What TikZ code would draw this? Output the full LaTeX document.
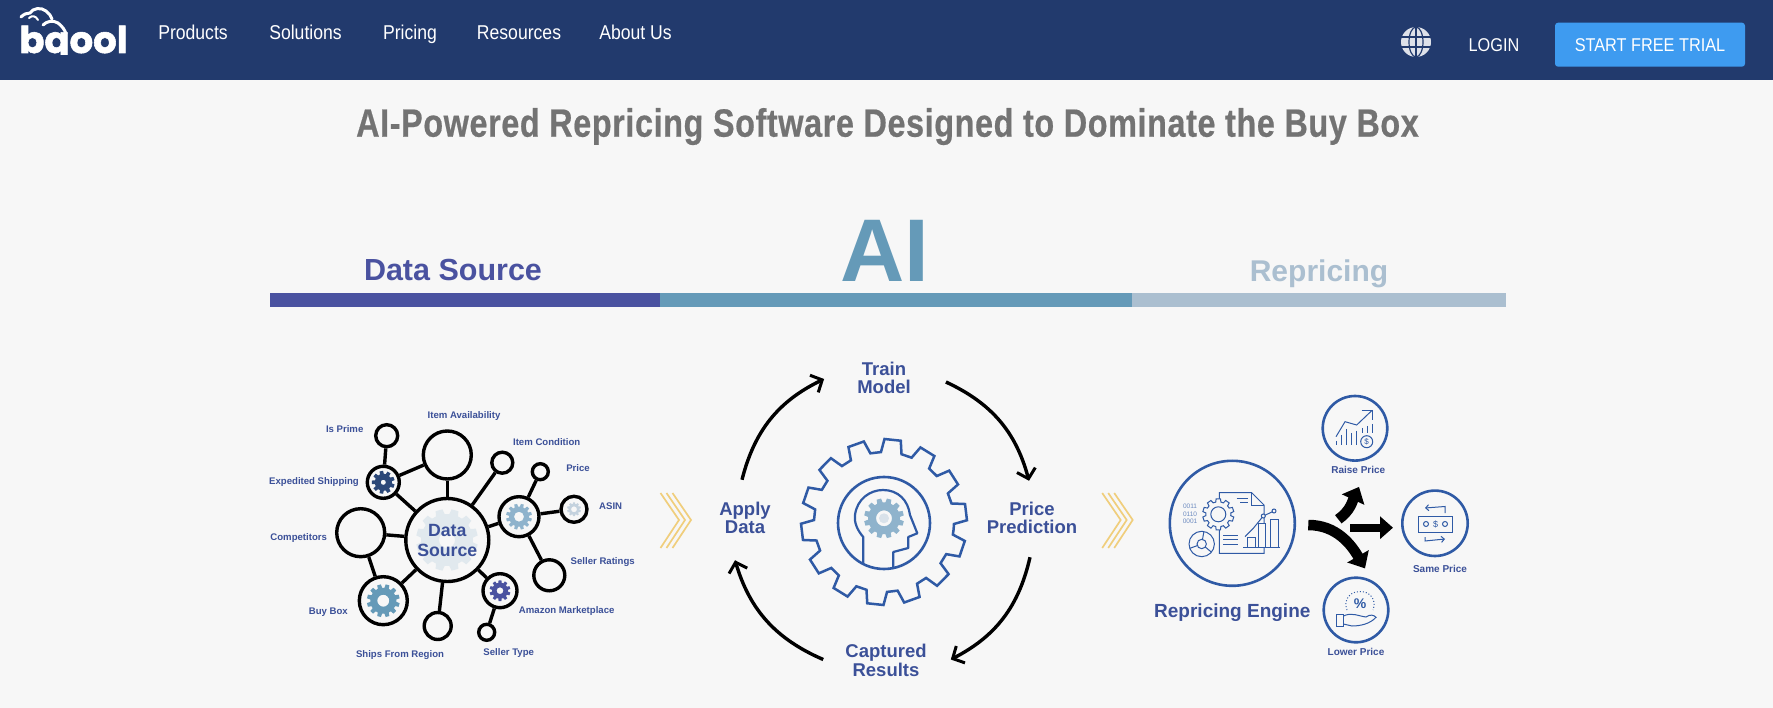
\documentclass[tikz,border=0pt]{standalone}
\usepackage{fontspec}
\usepackage{xcolor}
\usetikzlibrary{arrows.meta,calc}
\setmainfont{Liberation Sans}
\newfontfamily\navfont[FakeStretch=0.88]{Liberation Sans}
\newfontfamily\titlefont[FakeStretch=0.82,LetterSpace=1.5,BoldFeatures={FakeBold=0.5}]{Liberation Sans}
\newfontfamily\logofont[BoldFeatures={FakeBold=1.5}]{Poppins}
\definecolor{pageback}{HTML}{F7F7F7}
\definecolor{navblue}{HTML}{223A6D}
\definecolor{trialblue}{HTML}{3E9BF0}
\definecolor{inkblue}{HTML}{3B5098}
\definecolor{ringblue}{HTML}{2F5AA5}
\definecolor{dataviolet}{HTML}{4A52A0}
\definecolor{aiteal}{HTML}{659AB8}
\definecolor{repgrey}{HTML}{ABBFD0}
\definecolor{softgear}{HTML}{8FB3CC}
\definecolor{chevgold}{HTML}{F0CE7C}
\newcommand{\fs}[1]{\fontsize{#1}{#1}\selectfont}
% gear outline: centre, outer radius, inner radius, teeth, rotation
\newcommand{\geartrack}[5]{($(#1)+(#5:#3)$)
  \foreach \tooth in {1,...,#4} {
    -- ($(#1)+({#5+(\tooth-0.83)*360/#4}:#3)$)
    -- ($(#1)+({#5+(\tooth-0.72)*360/#4}:#2)$)
    -- ($(#1)+({#5+(\tooth-0.28)*360/#4}:#2)$)
    -- ($(#1)+({#5+(\tooth-0.17)*360/#4}:#3)$)
  } -- cycle}

\begin{document}
\begin{tikzpicture}[
      x=1pt, y=-1pt,
      navtext/.style={text=white, inner sep=0pt, anchor=base, font=\navfont\fs{20}},
      bandlabel/.style={inner sep=0pt, anchor=base, font=\bfseries},
      blob/.style={draw=black, circle, line width=3.4pt, inner sep=0pt},
      link/.style={draw=black, line width=3.4pt},
      srclabel/.style={text=inkblue, inner sep=0pt, text height=7pt, text depth=2pt, font=\bfseries\fs{9.6}},
      steplabel/.style={text=inkblue, inner sep=0pt, align=center, font=\bfseries\fs{18.5}},
      pricelabel/.style={text=inkblue, inner sep=0pt, font=\bfseries\fs{10}},
      cyclearr/.style={line width=3.4pt, -{Straight Barb[length=9pt,width=19pt,line width=3pt]}},
      chev/.style={draw=chevgold, line width=1.7pt},
      ring/.style={draw=ringblue, circle, line width=2.6pt, inner sep=0pt},
      icon/.style={draw=ringblue, line width=1pt},
      forkarr/.style={line width=10.5pt, -{Triangle[length=14pt,width=24pt]}},
      logoline/.style={draw=white, line width=3pt, line cap=round}
  ]
    \useasboundingbox (0,0) rectangle (1773,708);
    \fill[pageback] (0,0) rectangle (1773,708);

    % top bar
    \fill[navblue] (0,0) rectangle (1773,80);
    \begin{scope}
      \clip (0,0) rectangle (140,55);
      \node[text=white, inner sep=0pt, anchor=base, font=\logofont\bfseries\fs{37}] (logoWord) at (73.5,53) {bqool};
    \end{scope}
    \draw[logoline] (21,17) .. controls (24,14) and (27,13) .. (30,13) .. controls (33,8) and (41,7) .. (46,11) .. controls (49,13) and (51,16) .. (52,19);
    \draw[logoline] (43,25) .. controls (47,21) and (53,20) .. (58,23) .. controls (62,26) and (65,30) .. (66,34);
    \draw[white, line width=2pt, line cap=round] (29,18) .. controls (32,15) and (36,16) .. (38,20);
    \node[navtext] (navProducts) at (193,40) {Products};
    \node[navtext] (navSolutions) at (305.5,40) {Solutions};
    \node[navtext] (navPricing) at (410,40) {Pricing};
    \node[navtext] (navResources) at (519,40) {Resources};
    \node[navtext] (navAbout) at (635.5,40) {About Us};
    \fill[white!85!navblue] (1416,42) circle (15);
    \draw[navblue, line width=1.2pt] (1416,27) -- (1416,57) (1401,37) -- (1431,37) (1401,47) -- (1431,47);
    \draw[navblue, line width=1.2pt] (1416,42) ellipse (7 and 15);
    \node[navtext, font=\navfont\fs{18.5}] (navLogin) at (1494,52) {LOGIN};
    \node[fill=trialblue, rounded corners=3pt, minimum width=190pt, minimum height=44pt, inner sep=0pt, text=white, font=\navfont\fs{18.5}] (navTrial) at (1650,44.7) {START FREE TRIAL};

    % heading
    \node[text=black!55, inner sep=0pt, anchor=base, font=\titlefont\bfseries\fs{39.5}] (mainTitle) at (887.5,136.7) {AI-Powered Repricing Software Designed to Dominate the Buy Box};

    % band
    \fill[dataviolet] (270,293) rectangle (659.5,307);
    \fill[aiteal] (659.5,293) rectangle (1132,307);
    \fill[repgrey] (1132,293) rectangle (1506,307);
    \node[bandlabel, text=dataviolet, font=\bfseries\fs{30.5}] (bandData) at (453,281) {Data Source};
    \node[bandlabel, text=aiteal, font=\bfseries\fs{89}] (bandAI) at (885,282) {AI};
    \node[bandlabel, text=repgrey, font=\bfseries\fs{30}] (bandRep) at (1319,282) {Repricing};

    % data source gears
    \fill[aiteal!15!pageback, even odd rule] \geartrack{447,540}{31}{26}{12}{0} (447,540) circle (8);
    \fill[navblue!85!aiteal, even odd rule] \geartrack{383.3,482.3}{11.5}{8.5}{9}{0} (383.3,482.3) circle (2.6);
    \fill[softgear, even odd rule] \geartrack{519,516.7}{13}{10}{12}{0} (519,516.7) circle (5);
    \fill[repgrey!70!white, even odd rule] \geartrack{574,509.3}{7}{5.5}{10}{0} (574,509.3) circle (3);
    \fill[dataviolet, even odd rule] \geartrack{500,590.7}{10.5}{8}{10}{0} (500,590.7) circle (3.4);
    \fill[aiteal, even odd rule] \geartrack{383.3,600.7}{16.5}{13}{12}{0} (383.3,600.7) circle (6);

    % data source nodes
    \node[blob, minimum size=83pt, text=inkblue, align=center, font=\bfseries\fontsize{17.7}{20}\selectfont] (hubData) at (447.3,540) {Data\\Source};
    \node[blob, minimum size=22pt] (isPrime) at (386.7,435.7) {};
    \node[blob, minimum size=48pt] (itemAvail) at (447.3,455) {};
    \node[blob, minimum size=21pt] (itemCond) at (502.3,462.7) {};
    \node[blob, minimum size=16pt] (priceDot) at (540.3,471.7) {};
    \node[blob, minimum size=40pt] (priceHub) at (519,516.7) {};
    \node[blob, minimum size=26pt] (asinDot) at (574,509.3) {};
    \node[blob, minimum size=31pt] (sellerRate) at (549.3,575.3) {};
    \node[blob, minimum size=34pt] (amazonHub) at (500,590.7) {};
    \node[blob, minimum size=16pt] (sellerType) at (486.7,632.3) {};
    \node[blob, minimum size=27pt] (shipsFrom) at (437.7,626) {};
    \node[blob, minimum size=48pt] (buyBox) at (383.3,600.7) {};
    \node[blob, minimum size=48pt] (competitors) at (360.7,532.7) {};
    \node[blob, minimum size=32pt] (expedited) at (383.3,482.3) {};
    \draw[link] (hubData) -- (expedited);
    \draw[link] (expedited) -- (isPrime);
    \draw[link] (expedited) -- (itemAvail);
    \draw[link] (hubData) -- (itemAvail);
    \draw[link] (hubData) -- (itemCond);
    \draw[link] (hubData) -- (priceHub);
    \draw[link] (priceHub) -- (priceDot);
    \draw[link] (priceHub) -- (asinDot);
    \draw[link] (priceHub) -- (sellerRate);
    \draw[link] (hubData) -- (amazonHub);
    \draw[link] (amazonHub) -- (sellerType);
    \draw[link] (hubData) -- (shipsFrom);
    \draw[link] (hubData) -- (buyBox);
    \draw[link] (buyBox) -- (competitors);
    \draw[link] (hubData) -- (competitors);

    % data source labels
    \node[srclabel] (lblPrime) at (344.7,429.7) {Is Prime};
    \node[srclabel] (lblAvail) at (464,416) {Item Availability};
    \node[srclabel] (lblCond) at (546.7,442.7) {Item Condition};
    \node[srclabel] (lblPrice) at (578,468.7) {Price};
    \node[srclabel] (lblAsin) at (610.7,507.3) {ASIN};
    \node[srclabel] (lblRate) at (602.7,561.7) {Seller Ratings};
    \node[srclabel] (lblAmazon) at (566.7,611.3) {Amazon Marketplace};
    \node[srclabel] (lblType) at (508.7,653.3) {Seller Type};
    \node[srclabel] (lblShips) at (400,655) {Ships From Region};
    \node[srclabel] (lblBuy) at (328.3,612) {Buy Box};
    \node[srclabel] (lblComp) at (298.7,538.3) {Competitors};
    \node[srclabel] (lblExp) at (314,482.3) {Expedited Shipping};

    % chevrons
    \foreach \tip in {679,685,691}
      \draw[chev] (\tip-18.5,493) -- (\tip,520) -- (\tip-18.5,548);
    \foreach \tip in {1120.7,1126.7,1132.7}
      \draw[chev] (\tip-18.5,493) -- (\tip,520) -- (\tip-18.5,548);

    % AI cycle
    \node[steplabel] (trainModel) at (884,378) {Train\\Model};
    \node[steplabel] (applyData) at (745,518) {Apply\\Data};
    \node[steplabel] (pricePred) at (1032,518) {Price\\Prediction};
    \node[steplabel] (capResults) at (886,660.5) {Captured\\Results};
    \draw[cyclearr] ([xshift=-3pt,yshift=22pt]applyData.north) to[bend left=25] ([xshift=-33pt,yshift=-1pt]trainModel.west);
    \draw[cyclearr] ([xshift=35pt,yshift=-4pt]trainModel.east) to[bend left=25] ([xshift=-3pt,yshift=21pt]pricePred.north);
    \draw[cyclearr] ([xshift=-2pt,yshift=-23pt]pricePred.south) to[bend left=25] ([xshift=24pt,yshift=1pt]capResults.east);
    \draw[cyclearr] ([xshift=-22pt,yshift=1pt]capResults.west) to[bend left=25] ([xshift=-10pt,yshift=-26pt]applyData.south);

    % gear and head
    \draw[ringblue, line width=2.5pt, line join=miter] \geartrack{884,522}{83}{70}{14}{6};
    \node[ring, minimum size=92pt] (headRing) at (884,523) {};
    \fill[softgear, even odd rule] \geartrack{884,518.3}{20}{16}{12}{0} (884,518.3) circle (8);
    \fill[repgrey!45!white] (884,518.3) circle (5);
    \draw[ringblue, line width=2.2pt, line join=round] (863.3,563) -- (863.3,537) .. controls (857,530) and (854,522) .. (855,515)
      .. controls (857,499) and (870,490) .. (883,490) .. controls (898,490) and (908,500) .. (910,515)
      -- (917.3,533.3) -- (908.3,537) -- (908.3,548) -- (893.3,552) -- (893.3,568);

    % repricing engine
    \node[ring, minimum size=125pt] (engineRing) at (1232.3,523.3) {};
    \node[text=inkblue, inner sep=0pt, font=\bfseries\fs{19}] (engineLabel) at (1232.3,612.7) {Repricing Engine};
    \draw[icon] (1219.3,492.7) -- (1251.7,492.7) -- (1264,505) -- (1264,553.3) -- (1219.3,553.3) -- cycle;
    \draw[icon] (1251.7,492.7) -- (1251.7,505) -- (1264,505);
    \draw[icon] (1236.7,498.3) -- (1248.3,498.3) (1240,502.3) -- (1248.3,502.3);
    \draw[icon] (1223.3,535) -- (1238.3,535) (1223.3,539.3) -- (1238.3,539.3) (1223.3,544) -- (1238.3,544);
    \filldraw[icon, fill=pageback] \geartrack{1218.3,514.3}{15.7}{12.5}{10}{0};
    \filldraw[icon, fill=pageback] (1218.3,514.3) circle (7.5);
    \filldraw[icon, fill=pageback] (1201.7,544) circle (12.7);
    \filldraw[icon, fill=pageback] (1201.7,544) circle (4.7);
    \foreach \spoke in {40,160,280}
      \draw[icon] ($(1201.7,544)+(\spoke:4.7)$) -- ($(1201.7,544)+(\spoke:12.7)$);
    \filldraw[icon, fill=pageback] (1247.3,547.3) rectangle (1255.7,537.3);
    \filldraw[icon, fill=pageback] (1258.3,547.3) rectangle (1265.7,523.3);
    \filldraw[icon, fill=pageback] (1270,547.3) rectangle (1278.3,519.3);
    \draw[icon] (1243.3,547.3) -- (1280,547.3);
    \draw[icon] (1245,536.7) -- (1253.3,528.3) -- (1263.3,516) -- (1274,511);
    \filldraw[icon, fill=pageback] (1263.3,516) circle (2) (1274,511) circle (2);
    \foreach \bit/\row in {0011/506,0110/514,0001/521.7}
      \node[text=ringblue!70, inner sep=0pt, font=\fs{6.5}] (bits\bit) at (1190,\row) {\bit};

    % price rings
    \node[ring, minimum size=64.6pt] (raiseRing) at (1355,428.3) {};
    \node[ring, minimum size=65.4pt] (sameRing) at (1435,523.3) {};
    \node[ring, minimum size=64.6pt] (lowerRing) at (1356,610) {};
    \node[pricelabel] (raiseLabel) at (1358.3,470.3) {Raise Price};
    \node[pricelabel] (sameLabel) at (1440,568.7) {Same Price};
    \node[pricelabel] (lowerLabel) at (1356,652.3) {Lower Price};

    % raise icon
    \draw[icon] (1336,436.7) -- (1345,421.7) -- (1356.7,425) -- (1371.7,410.7);
    \draw[icon] (1361.7,410.7) -- (1372.7,410.7) -- (1372.7,420);
    \foreach \barx/\bartop in {1336.7/441,1341.7/435,1346.7/429,1351.7/433,1356.7/431}
      \draw[icon] (\barx,\bartop) -- (\barx,445);
    \foreach \barx/\bartop in {1362/428,1367/426,1372/424}
      \draw[icon] (\barx,\bartop) -- (\barx,433);
    \filldraw[icon, fill=pageback] (1366.7,441.7) circle (6);
    \node[text=ringblue, inner sep=0pt, font=\fs{8}] (raiseCoin) at (1366.7,441.7) {\$};

    % same icon
    \draw[icon] (1418.3,516) rectangle (1452.7,532.7);
    \draw[icon] (1426,524) circle (2.5) (1445,524) circle (2.5);
    \node[text=ringblue, inner sep=0pt, font=\fs{9}] (sameBill) at (1435.5,524) {\$};
    \draw[icon, -{Straight Barb[length=3pt,width=6pt]}] (1445,513) -- (1445,506.5) -- (1425,508);
    \draw[icon, -{Straight Barb[length=3pt,width=6pt]}] (1425,537) -- (1425,541) -- (1445,539);

    % lower icon
    \draw[icon, dotted] (1347,610) .. controls (1343,600) and (1350,591) .. (1360,591.7) .. controls (1370,591) and (1377,600) .. (1373,610);
    \node[text=ringblue, inner sep=0pt, font=\bfseries\fs{14}] (lowerPct) at (1360,604) {\%};
    \draw[icon] (1336.7,614) rectangle (1343.3,626);
    \draw[icon] (1343.3,616) .. controls (1352,612) and (1358,616) .. (1366,617) .. controls (1370,614) and (1374,615) .. (1376,617.3)
      .. controls (1370,624) and (1360,626) .. (1352,626) -- (1343.3,624);

    % fork arrows
    \coordinate (forkIn) at (1308.3,525);
    \coordinate (forkRaise) at (1338.3,519.3);
    \coordinate (forkSame) at (1350,527.7);
    \draw[forkarr] (forkIn) to[out=0,in=120] ([xshift=9pt,yshift=8pt]lowerRing.north);
    \draw[forkarr] (forkRaise) to[out=35,in=245] ([xshift=4pt,yshift=-25pt]raiseRing.south);
    \draw[forkarr, line width=8pt, -{Triangle[length=13pt,width=22pt]}] (forkSame) -- ([xshift=-8pt,yshift=-4.4pt]sameRing.west);
  \end{tikzpicture}
\end{document}
